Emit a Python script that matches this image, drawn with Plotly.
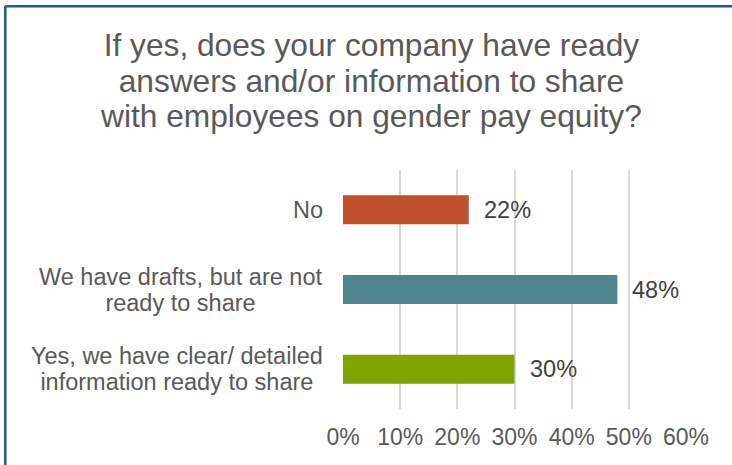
import plotly.graph_objects as go

# Survey responses, listed top to bottom
categories = [
    "No",
    "We have drafts, but are not<br>ready to share",
    "Yes, we have clear/ detailed<br>information ready to share",
]
shares = [0.22, 0.48, 0.30]
bar_colors = ["#C0502E", "#4E848C", "#82A400"]
tick_vals = [0, 0.1, 0.2, 0.3, 0.4, 0.5, 0.6]
tick_text = ["0%", "10%", "20%", "30%", "40%", "50%", "60%"]

title_lines = [
    "If yes, does your company have ready",
    "answers and/or information to share",
    "with employees on gender pay equity?",
]

W, H = 732, 465
ML, MR, MT, MB = 343, 46, 170, 56
PW, PH = W - ML - MR, H - MT - MB
FONT = "Liberation Sans, Arial, sans-serif"
TEXT = "#595959"
LABEL = "#404040"


def px_x(px):
    return (px - ML) / PW


def px_y(py):
    return (H - MB - py) / PH


def tight(lines, size, lead):
    """Multi-line text drawn at `size` px with `lead` px between baselines.

    Plotly spaces lines at 1.3x the annotation font size, so the annotation
    size is set from the leading and each line is wrapped in a span that
    carries the real glyph size.
    """
    body = "<br>".join(f"<span style='font-size:{size}px'>{t}</span>" for t in lines)
    return body, lead / 1.3


fig = go.Figure(go.Bar(
    y=list(range(len(categories))),
    x=shares,
    orientation="h",
    marker=dict(color=bar_colors, line=dict(width=0)),
    width=0.365,
    hoverinfo="skip",
))

annotations = []
# value labels beside each bar
for i, v in enumerate(shares):
    annotations.append(dict(
        x=v, y=i, xref="x", yref="y", text=f"{round(v * 100)}%",
        showarrow=False, xanchor="left", yanchor="middle", xshift=13,
        font=dict(family=FONT, size=23.5, color=LABEL),
    ))

# category labels, lines centred on each other
for i, c in enumerate(categories):
    body, base = tight(c.split("<br>"), 23.5, 26)
    annotations.append(dict(
        x=0, y=i, xref="paper", yref="y", text=body, align="center",
        showarrow=False, xanchor="right", yanchor="middle", xshift=-18,
        font=dict(family=FONT, size=base, color=TEXT),
    ))

# title, three centred lines
body, base = tight(title_lines, 31.7, 35.5)
annotations.append(dict(
    x=px_x(371), y=px_y(80.5), xref="paper", yref="paper",
    text=body, align="center", showarrow=False,
    xanchor="center", yanchor="middle",
    font=dict(family=FONT, size=base, color=TEXT),
))

# frame: top and left edges in dark blue
bx0, by0 = px_x(5.3), px_y(6.2)
shapes = [
    dict(type="line", xref="paper", yref="paper", x0=bx0, x1=px_x(W + 10),
         y0=by0, y1=by0, line=dict(color="#1F5B8A", width=2.5)),
    dict(type="line", xref="paper", yref="paper", x0=bx0, x1=bx0,
         y0=by0, y1=px_y(H + 10), line=dict(color="#1F5B8A", width=2.5)),
]

fig.update_layout(
    width=W, height=H,
    margin=dict(l=ML, r=MR, t=MT, b=MB),
    paper_bgcolor="white", plot_bgcolor="white",
    showlegend=False,
    annotations=annotations,
    shapes=shapes,
    xaxis=dict(
        range=[0, 0.6], tickvals=tick_vals, ticktext=tick_text,
        showgrid=True, gridcolor="#D9D9D9", gridwidth=2,
        zeroline=False, showline=False, ticks="",
        tickfont=dict(family=FONT, size=23, color=TEXT),
        ticklabelstandoff=12, fixedrange=True,
    ),
    yaxis=dict(
        range=[len(categories) - 0.5, -0.5], showticklabels=False,
        showgrid=False, zeroline=False, showline=False, fixedrange=True,
    ),
)

fig.write_html("out.html")
